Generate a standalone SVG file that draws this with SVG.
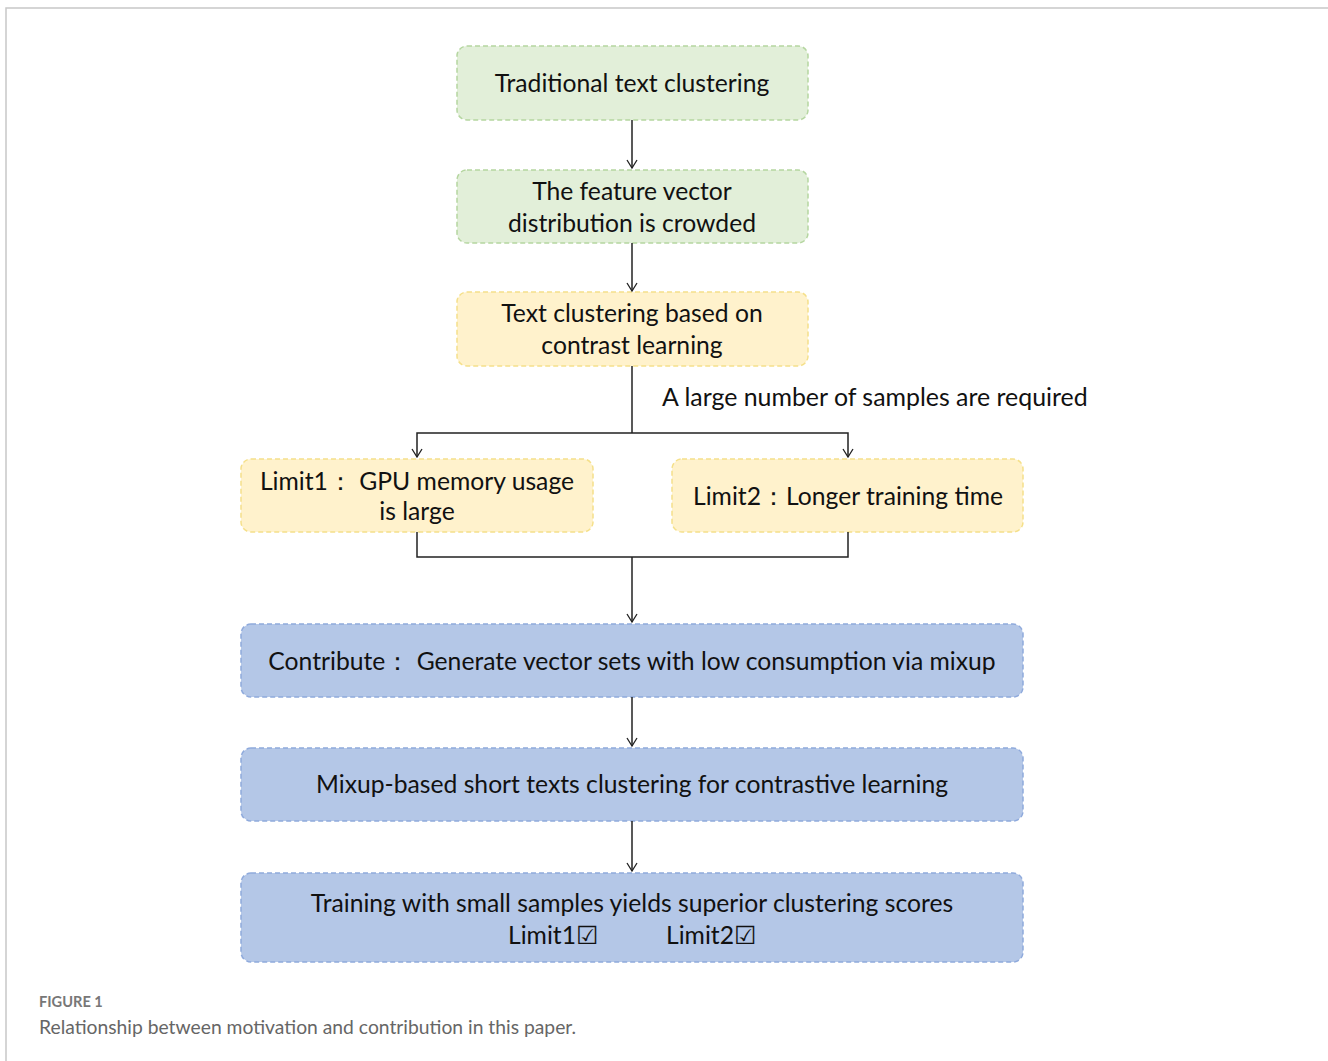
<svg xmlns="http://www.w3.org/2000/svg" width="1328" height="1061" viewBox="0 0 1328 1061">
<defs>
<marker id="arr" markerWidth="12" markerHeight="12" refX="10" refY="6" orient="auto" markerUnits="userSpaceOnUse" viewBox="0 0 12 12">
<path d="M2,1 L10,6 L2,11" fill="none" stroke="#222" stroke-width="1.3"/>
</marker>
<style>
.g{fill:#e2efd9;stroke:#b5d6a0;stroke-width:1.5;stroke-dasharray:5 3}
.y{fill:#fff2cc;stroke:#f5e08a;stroke-width:1.5;stroke-dasharray:5 3}
.b{fill:#b4c7e7;stroke:#8faadc;stroke-width:1.5;stroke-dasharray:5 3}
.t{font-family:Lato,"Liberation Sans",sans-serif;font-size:24.7px;fill:#111;text-anchor:middle}
.c{fill:none;stroke:#222;stroke-width:1.5}
</style>
</defs>
<rect width="1328" height="1061" fill="#fff"/>
<path d="M6,1061 V8 H1328" fill="none" stroke="#c8c8c8" stroke-width="1.5"/>

<g id="n1"><rect class="g" x="457" y="46" width="351" height="74" rx="10"/><text class="t" x="632" y="92">Traditional text clustering</text></g>
<g id="n2"><rect class="g" x="457" y="170" width="351" height="73" rx="10"/><text class="t" x="632" y="200">The feature vector</text><text class="t" x="632" y="232">distribution is crowded</text></g>
<g id="n3"><rect class="y" x="457" y="292" width="351" height="74" rx="10"/><text class="t" x="632" y="322">Text clustering based on</text><text class="t" x="632" y="354">contrast learning</text></g>
<g id="n4"><rect class="y" x="241" y="459" width="352" height="73" rx="10"/><text class="t" x="417" y="490">Limit1：  GPU memory usage</text><text class="t" x="417" y="520">is large</text></g>
<g id="n5"><rect class="y" x="672" y="459" width="351" height="73" rx="10"/><text class="t" x="848" y="505">Limit2：Longer training time</text></g>
<g id="n6"><rect class="b" x="241" y="624" width="782" height="73" rx="10"/><text class="t" x="632" y="670">Contribute：  Generate vector sets with low consumption via mixup</text></g>
<g id="n7"><rect class="b" x="241" y="748" width="782" height="73" rx="10"/><text class="t" x="632" y="793">Mixup-based short texts clustering for contrastive learning</text></g>
<g id="n8"><rect class="b" x="241" y="873" width="782" height="89" rx="10"/><text class="t" x="632" y="912">Training with small samples yields superior clustering scores</text><text class="t" x="553" y="944">Limit1☑</text><text class="t" x="711" y="944">Limit2☑</text></g>

<g id="connectors">
<path class="c" d="M632,120 V168" marker-end="url(#arr)"/>
<path class="c" d="M632,243 V291" marker-end="url(#arr)"/>
<path class="c" d="M632,366 V433"/>
<path class="c" d="M632,433 H417 V457" marker-end="url(#arr)"/>
<path class="c" d="M632,433 H848 V457" marker-end="url(#arr)"/>
<path class="c" d="M417,532 V557 H848 V532"/>
<path class="c" d="M632,557 V622" marker-end="url(#arr)"/>
<path class="c" d="M632,697 V746" marker-end="url(#arr)"/>
<path class="c" d="M632,821 V871" marker-end="url(#arr)"/>
<text class="t" x="662" y="406" style="text-anchor:start;font-size:24.9px">A large number of samples are required</text>
</g>

<text x="39" y="1007" font-family="Lato,'Liberation Sans',sans-serif" font-size="14.6" font-weight="bold" fill="#777">FIGURE 1</text>
<text x="39" y="1034" font-family="Lato,'Liberation Sans',sans-serif" font-size="19.3" fill="#666">Relationship between motivation and contribution in this paper.</text>
</svg>
